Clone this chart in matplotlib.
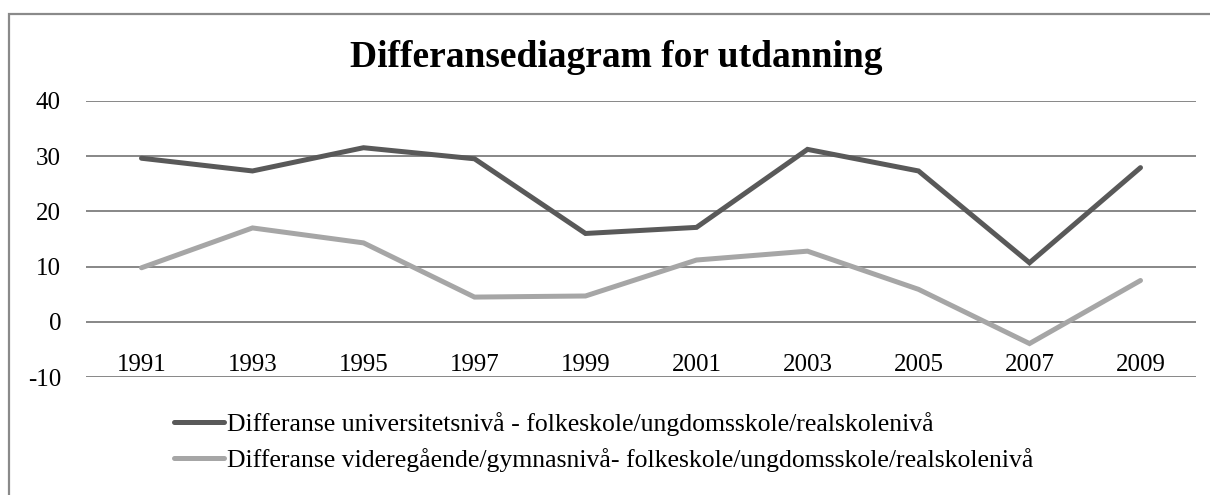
import matplotlib
matplotlib.use("Agg")
import matplotlib.pyplot as plt
from matplotlib.patches import Rectangle
from matplotlib.lines import Line2D

years = ["1991", "1993", "1995", "1997", "1999", "2001", "2003", "2005", "2007", "2009"]
univ_diff = [29.6, 27.3, 31.5, 29.5, 16.0, 17.1, 31.2, 27.3, 10.7, 27.9]
vgs_diff = [9.8, 17.0, 14.3, 4.5, 4.7, 11.2, 12.8, 5.9, -3.9, 7.5]
series_labels = [
    "Differanse universitetsnivå - folkeskole/ungdomsskole/realskolenivå",
    "Differanse videregående/gymnasnivå- folkeskole/ungdomsskole/realskolenivå",
]
title = "Differansediagram for utdanning"
yticks = [-10, 0, 10, 20, 30, 40]

plt.rcParams['font.family'] = ['Liberation Serif', 'DejaVu Serif']

W, H = 1210, 495
fig = plt.figure(figsize=(W / 100, H / 100), dpi=100)
ax = fig.add_axes([86 / W, 1 - 377.3 / H, (1196 - 86) / W, (377.3 - 100.7) / H])

dark = "#595959"
light = "#A6A6A6"
grid = "#878787"

x = list(range(len(years)))
ax.plot(x, univ_diff, color=dark, lw=3.6, solid_joinstyle='miter', solid_capstyle='round', zorder=3)
ax.plot(x, vgs_diff, color=light, lw=3.6, solid_joinstyle='miter', solid_capstyle='round', zorder=3)

ax.set_xlim(-0.5, len(years) - 0.5)
ax.set_ylim(-10, 40)
ax.set_yticks(yticks)
ax.set_yticklabels([str(v) for v in yticks], fontsize=18)
for v in yticks:
    ax.axhline(v, color=grid, lw=1.4, zorder=1)

ax.set_xticks(x)
ax.set_xticklabels(years, fontsize=18)
for lbl in ax.get_xticklabels():
    lbl.set_va('bottom')
ax.tick_params(axis='x', length=0, pad=-1)
ax.tick_params(axis='y', length=0, pad=18)
for s in ax.spines.values():
    s.set_visible(False)

fig.text(616 / W, 1 - 67 / H, title, fontsize=27, fontweight='bold', ha='center', va='baseline')

handles = [Line2D([], [], color=dark, lw=3.6, solid_capstyle='round'),
           Line2D([], [], color=light, lw=3.6, solid_capstyle='round')]
fig.legend(handles, series_labels, loc='upper left', bbox_to_anchor=(174 / W, 1 - 412 / H),
           frameon=False, fontsize=18.5, handlelength=1.95, handletextpad=0.12,
           labelspacing=0.47, borderpad=0, borderaxespad=0)

fig.patches.append(Rectangle((8.5 / W, -0.1), 1.2, (1 - 14 / H) + 0.1, transform=fig.transFigure,
                             fill=False, edgecolor="#8a8a8a", lw=1.6, figure=fig))

fig.savefig("out.png", dpi=100)
